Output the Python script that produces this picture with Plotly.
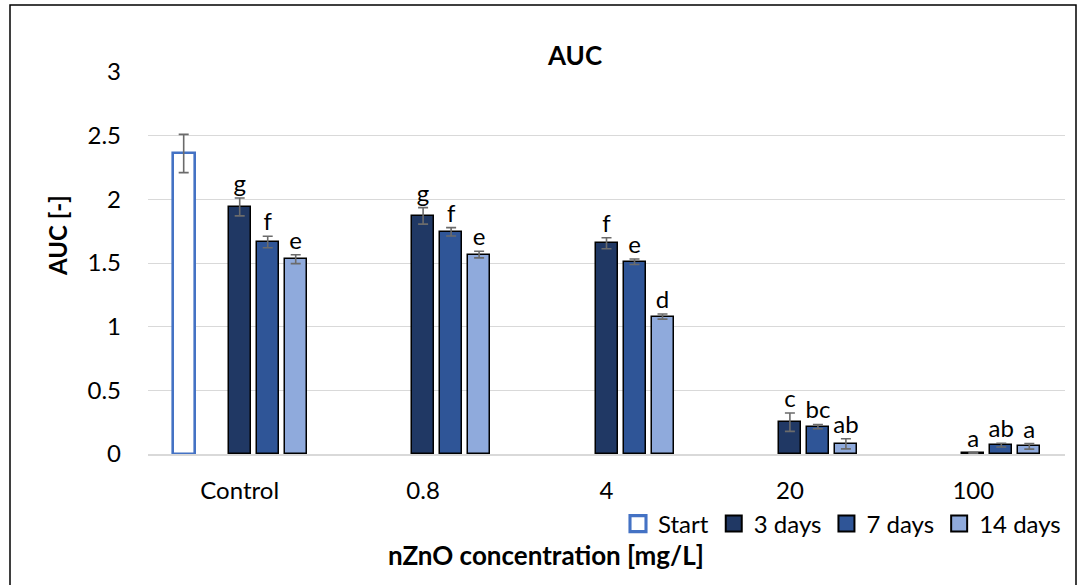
import plotly.graph_objects as go

categories = ["Control", "0.8", "4", "20", "100"]
series_names = ["Start", "3 days", "7 days", "14 days"]

start_vals = [2.36, None, None, None, None]
start_err = [0.15, None, None, None, None]
d3_vals = [1.94, 1.87, 1.655, 0.25, 0.006]
d3_err = [0.07, 0.065, 0.043, 0.072, 0.003]
d7_vals = [1.665, 1.745, 1.51, 0.215, 0.07]
d7_err = [0.045, 0.033, 0.022, 0.017, 0.015]
d14_vals = [1.53, 1.566, 1.079, 0.08, 0.06]
d14_err = [0.035, 0.026, 0.02, 0.04, 0.022]

d3_letters = ["g", "g", "f", "c", "a"]
d7_letters = ["f", "f", "e", "bc", "ab"]
d14_letters = ["e", "e", "d", "ab", "a"]

y_ticks = [0, 0.5, 1, 1.5, 2, 2.5, 3]
y_tick_labels = ["0", "0.5", "1", "1.5", "2", "2.5", "3"]

# style
FONT = "Lato, Carlito, Calibri, sans-serif"
slot = 0.1527
bw = 0.12
L, R, T, B = 148, 17, 72, 131
W, H = 1082, 585
pw = W - L - R
ph = H - T - B

fig = go.Figure()
idx = list(range(len(categories)))

def add_series(name, vals, errs, offset_slots, fill, line_color, line_w, letters=None):
    xs = [i + offset_slots * slot for i in idx]
    xv = [x for x, v in zip(xs, vals) if v is not None]
    yv = [v for v in vals if v is not None]
    ev = [e for e, v in zip(errs, vals) if v is not None]
    fig.add_trace(go.Bar(
        x=xv, y=yv, name=name, width=bw, showlegend=False,
        marker=dict(color=fill, line=dict(color=line_color, width=line_w)),
        error_y=dict(type="data", array=ev, visible=True, color="#6b6b6b", thickness=1.6, width=5),
    ))
    if letters:
        fig.add_trace(go.Scatter(
            x=xv, y=[v + e for v, e in zip(yv, ev)], mode="text", text=letters,
            textposition="top center", showlegend=False, hoverinfo="skip",
            textfont=dict(family=FONT, size=24, color="#000000"),
        ))
    # legend entry
    fig.add_trace(go.Scatter(
        x=[None], y=[None], mode="markers", name=name, showlegend=True,
        marker=dict(symbol="square", size=16, color=fill,
                    line=dict(color=line_color, width=line_w + 0.5)),
    ))

add_series("Start", start_vals, start_err, -2, "#ffffff", "#4472C4", 2.6)
add_series("3 days", d3_vals, d3_err, 0, "#203864", "#000000", 1.5, d3_letters)
add_series("7 days", d7_vals, d7_err, 1, "#2F5597", "#000000", 1.5, d7_letters)
add_series("14 days", d14_vals, d14_err, 2, "#8FAADC", "#000000", 1.5, d14_letters)

fig.update_layout(
    width=W, height=H,
    margin=dict(l=L, r=R, t=T, b=B),
    paper_bgcolor="#ffffff", plot_bgcolor="#ffffff",
    font=dict(family=FONT, size=24, color="#000000"),
    showlegend=True,
    legend=dict(orientation="h", x=(1066 - L) / pw, xanchor="right", y=(H - B - 524) / ph, yanchor="middle",
                font=dict(size=24), traceorder="normal", itemwidth=30, bgcolor="rgba(0,0,0,0)"),
    bargap=0,
)
fig.update_xaxes(
    range=[-0.5, len(categories) - 0.5],
    tickmode="array", tickvals=idx, ticktext=categories,
    showgrid=False, zeroline=False, showline=True, linecolor="#D9D9D9", linewidth=1.5,
    ticks="", ticklabelstandoff=14, tickfont=dict(size=24),
)
fig.update_yaxes(
    range=[0, 3], tickmode="array", tickvals=y_ticks, ticktext=y_tick_labels,
    showgrid=True, gridcolor="#D9D9D9", gridwidth=1.2, zeroline=False, showline=False,
    ticks="", ticklabelstandoff=26, tickfont=dict(size=24),
)

fig.add_annotation(text="<b>AUC</b>", xref="paper", yref="paper",
                   x=(574 - L) / pw, y=(H - B - 55) / ph, showarrow=False,
                   font=dict(size=26, family=FONT), xanchor="center", yanchor="middle")
fig.add_annotation(text="<b>AUC [-]</b>", xref="paper", yref="paper",
                   x=(57 - L) / pw, y=(H - B - 236) / ph, showarrow=False, textangle=-90,
                   font=dict(size=24, family=FONT), xanchor="center", yanchor="middle")
fig.add_annotation(text="<b>nZnO concentration [mg/L]</b>", xref="paper", yref="paper",
                   x=(546 - L) / pw, y=(H - B - 555) / ph, showarrow=False,
                   font=dict(size=26, family=FONT), xanchor="center", yanchor="middle")

fig.add_shape(type="rect", xref="paper", yref="paper",
              x0=(10 - L) / pw, x1=(1076 - L) / pw,
              y0=(H - B - 600) / ph, y1=(H - B - 5) / ph,
              line=dict(color="#000000", width=1.5), fillcolor="rgba(0,0,0,0)", layer="below")

fig.write_html("out.html", config={"displayModeBar": False},
               post_script="document.body.style.margin='0';document.body.style.padding='0';")
